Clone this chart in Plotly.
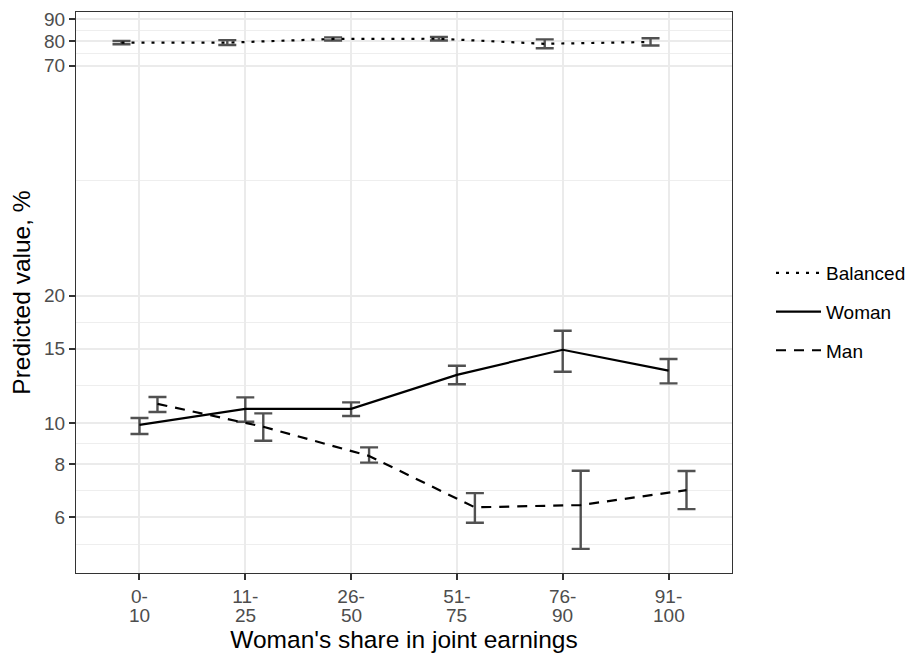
import plotly.graph_objects as go

categories = ["0-10", "11-25", "26-50", "51-75", "76-90", "91-100"]
tick_line1 = [c.split("-")[0] + "-" for c in categories]
tick_line2 = [c.split("-")[1] for c in categories]

balanced = [79.3, 79.3, 80.9, 81.0, 78.8, 79.6]
balanced_lo = [78.6, 78.3, 80.2, 80.2, 76.9, 78.1]
balanced_hi = [80.0, 80.4, 81.6, 81.8, 80.7, 81.2]

woman = [9.9, 10.8, 10.8, 13.0, 14.9, 13.3]
woman_lo = [9.42, 10.07, 10.39, 12.35, 13.22, 12.41]
woman_hi = [10.28, 11.5, 11.19, 13.66, 16.53, 14.17]

man = [11.1, 9.8, 8.36, 6.32, 6.40, 6.94]
man_lo = [10.62, 9.08, 8.06, 5.81, 5.04, 6.26]
man_hi = [11.52, 10.54, 8.76, 6.83, 7.71, 7.70]

y_ticks = [6, 8, 10, 15, 20, 70, 80, 90]
y_minor = [5.175, 6.93, 8.94, 12.25, 17.32, 37.4, 74.83, 84.85]

FONT = "Liberation Sans, Arial, Helvetica, sans-serif"
ERR_COLOR = "#515151"
TICK_FONT = dict(size=19, color="#4D4D4D")

series = [
    ("Balanced", balanced, balanced_lo, balanced_hi, "3px,7px"),
    ("Woman", woman, woman_lo, woman_hi, "solid"),
    ("Man", man, man_lo, man_hi, "10px,8px"),
]

fig = go.Figure()
for name, vals, lo, hi, dash in series:
    fig.add_trace(go.Scatter(
        x=categories, y=vals, name=name, mode="lines",
        offsetgroup=name, legendgroup=name,
        line=dict(color="black", width=2.2, dash=dash),
        error_y=dict(
            type="data", symmetric=False,
            array=[h - v for h, v in zip(hi, vals)],
            arrayminus=[v - l for v, l in zip(vals, lo)],
            color=ERR_COLOR, thickness=2.4, width=9,
        ),
    ))

# second line of each category tick label (ggplot-style tight line spacing)
for cat, txt in zip(categories, tick_line2):
    fig.add_annotation(
        x=cat, xref="x", y=0, yref="paper", yanchor="middle", yshift=-42,
        text=txt, showarrow=False, font=TICK_FONT,
    )

fig.update_layout(
    width=910, height=656,
    margin=dict(l=76, r=178, t=12, b=83),
    paper_bgcolor="white", plot_bgcolor="white",
    scattermode="group", scattergap=0.49,
    font=dict(family=FONT, color="black"),
    legend=dict(
        xref="container", yref="container",
        x=771 / 910, y=1 - 312 / 656, xanchor="left", yanchor="middle",
        font=dict(size=19, color="black"),
        itemwidth=45,
        tracegroupgap=11, bgcolor="rgba(0,0,0,0)",
    ),
    showlegend=True,
)

fig.update_xaxes(
    type="category", categoryorder="array", categoryarray=categories,
    range=[-0.6, 5.6], automargin=False,
    tickmode="array", tickvals=categories, ticktext=tick_line1,
    tickfont=TICK_FONT,
    ticks="outside", ticklen=6, tickwidth=1.5, tickcolor="#333333",
    showgrid=True, gridcolor="#EBEBEB", gridwidth=2,
    showline=True, linecolor="#333333", linewidth=1.2, mirror=True,
    zeroline=False,
    title=dict(text="Woman's share in joint earnings", font=dict(size=24.5, color="black"), standoff=24),
)

fig.update_yaxes(
    type="log", range=[0.6455, 1.9717], automargin=False,
    tickmode="array", tickvals=y_ticks, ticktext=[str(v) for v in y_ticks],
    tickfont=TICK_FONT,
    ticks="outside", ticklen=6, tickwidth=1.5, tickcolor="#333333",
    showgrid=True, gridcolor="#EBEBEB", gridwidth=2,
    minor=dict(tickmode="array", tickvals=y_minor, showgrid=True,
               gridcolor="#EEEEEE", gridwidth=1, ticklen=0),
    showline=True, linecolor="#333333", linewidth=1.2, mirror=True,
    zeroline=False,
    title=dict(text="Predicted value, %", font=dict(size=24.5, color="black"), standoff=6),
)

fig.write_html("out.html")
